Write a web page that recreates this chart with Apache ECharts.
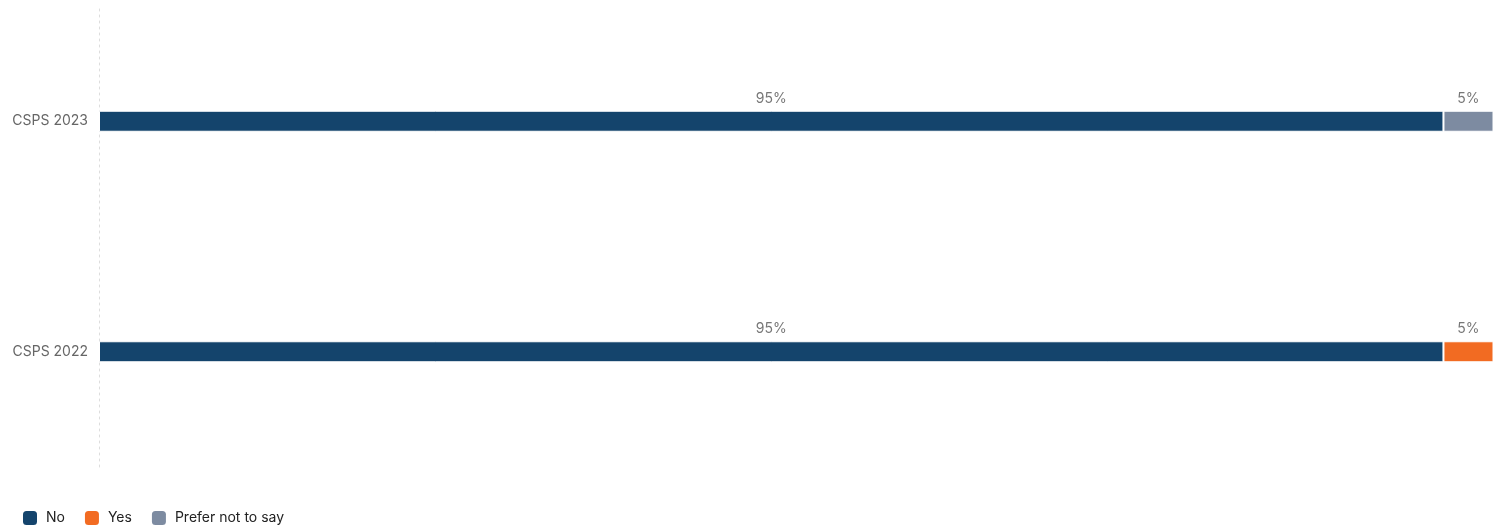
<!DOCTYPE html>
<html>
<head>
<meta charset="utf-8">
<script src="https://cdn.jsdelivr.net/npm/echarts@6/dist/echarts.min.js"></script>
<style>
  html, body { margin: 0; padding: 0; background: #fff; }
  #chart { width: 1493px; height: 531px; }
</style>
</head>
<body>
<div id="chart"></div>
<script>
// bottom to top
const categories = ['CSPS 2022', 'CSPS 2023']
const noValues = [95, 95]
const yesValues = [5, null]
const preferValues = [null, 5]

const chart = echarts.init(document.getElementById('chart'))

const barLabel = {
  show: true,
  position: 'top',
  distance: 5,
  color: '#777',
  fontSize: 14,
  fontFamily: 'Inter, "Noto Sans", sans-serif',
  formatter: (p) => p.value + '%',
}

const makeSeries = (name, data, color) => ({
  name: name,
  type: 'bar',
  stack: 'total',
  barWidth: 21,
  data: data,
  itemStyle: { color: color, borderColor: '#fff', borderWidth: 1 },
  label: barLabel,
})

chart.setOption({
  animation: false,
  textStyle: { fontFamily: 'Inter, "Noto Sans", sans-serif' },
  grid: { left: 99, right: 0, top: 6, bottom: 64, containLabel: false },
  legend: {
    left: 18,
    bottom: 1,
    icon: 'roundRect',
    itemWidth: 14,
    itemHeight: 14,
    itemGap: 20,
    itemStyle: { borderWidth: 0 },
    textStyle: { color: '#222', fontSize: 14, padding: [0, 0, 0, 4] },
    data: ['No', 'Yes', 'Prefer not to say'],
  },
  xAxis: {
    type: 'value',
    min: 0,
    // the original plot runs a little past the right edge of the page
    max: 98.5,
    show: false,
  },
  yAxis: {
    type: 'category',
    data: categories,
    axisTick: { show: false },
    axisLine: { show: true, lineStyle: { color: '#ddd', type: [2, 4], width: 1 } },
    axisLabel: { color: '#666', fontSize: 14, margin: 11 },
  },
  series: [
    makeSeries('No', noValues, '#14446c'),
    makeSeries('Yes', yesValues, '#f26b22'),
    makeSeries('Prefer not to say', preferValues, '#7d8ba1'),
  ],
})
</script>
</body>
</html>
